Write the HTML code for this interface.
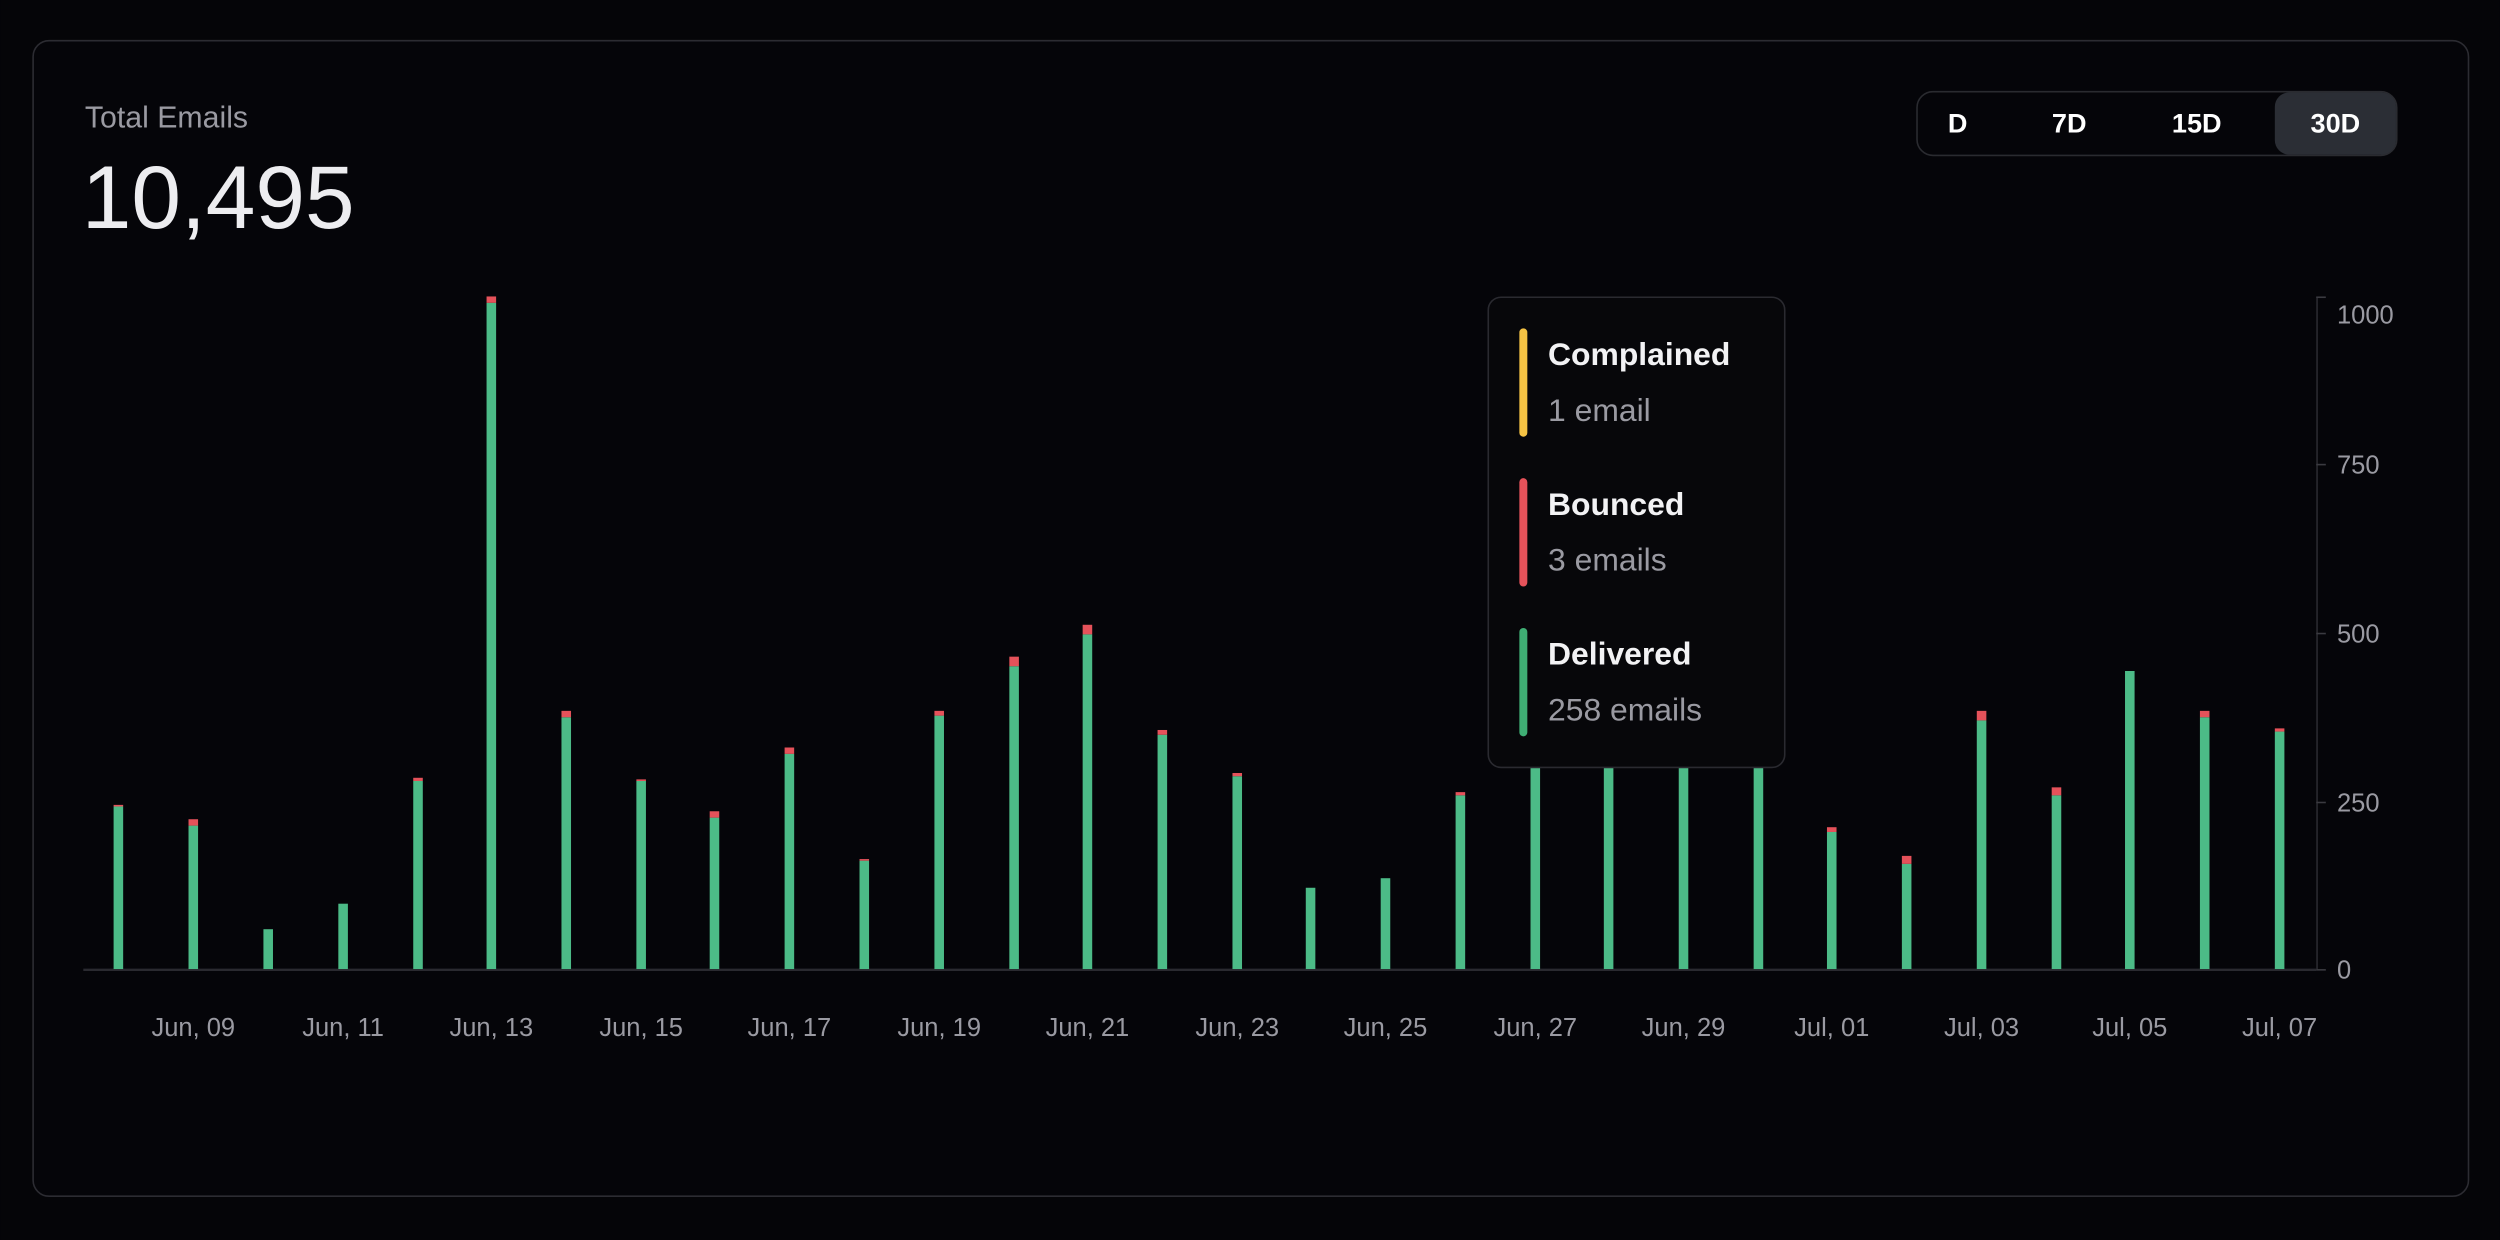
<!DOCTYPE html>
<html><head><meta charset="utf-8"><style>
html,body{margin:0;padding:0;background:#050508;}
svg{display:block;}
text{font-family:"Liberation Sans",sans-serif;}
</style></head><body>
<svg width="2500" height="1240" viewBox="0 0 1568 778" xmlns="http://www.w3.org/2000/svg">
<rect width="1568" height="778" fill="#050508"/>
<rect x="20.5" y="25.5" width="1528" height="725" rx="10" fill="#050509" stroke="#2c2c32" stroke-width="1"/>
<text x="53" y="80" font-size="19" fill="#9a9aa2">Total Emails</text>
<text x="51" y="143" font-size="56" fill="#ededf0" font-weight="300">10,495</text>
<rect x="1202.5" y="57.5" width="301" height="40" rx="10" fill="none" stroke="#2a2b30"/>
<rect x="1427" y="58" width="76" height="39" rx="9" fill="#2b2e35"/>
<g font-size="17" font-weight="bold" fill="#fff" text-anchor="middle">
<text x="1228" y="83">D</text><text x="1298" y="83">7D</text><text x="1378" y="83">15D</text><text x="1465" y="83">30D</text>
</g>
<line x1="52" y1="608.5" x2="1453" y2="608.5" stroke="#2a2a30" stroke-width="1.5"/>
<line x1="1453.5" y1="186" x2="1453.5" y2="608" stroke="#2a2a30"/>
<g stroke="#3a3a40"><line x1="1453" y1="186.5" x2="1459" y2="186.5"/><line x1="1453" y1="291.5" x2="1459" y2="291.5"/><line x1="1453" y1="397.5" x2="1459" y2="397.5"/><line x1="1453" y1="503.5" x2="1459" y2="503.5"/><line x1="1453" y1="608.5" x2="1459" y2="608.5"/></g>
<g font-size="16" fill="#9a9aa2">
<text x="1466" y="203">1000</text><text x="1466" y="297">750</text><text x="1466" y="403">500</text><text x="1466" y="509">250</text><text x="1466" y="614">0</text>
</g>
<g fill="#4cbb87">
<rect x="71" y="506" width="6" height="102"/>
<rect x="118" y="518" width="6" height="90"/>
<rect x="165" y="583" width="6" height="25"/>
<rect x="212" y="567" width="6" height="41"/>
<rect x="259" y="490" width="6" height="118"/>
<rect x="305" y="190" width="6" height="418"/>
<rect x="352" y="450" width="6" height="158"/>
<rect x="399" y="490" width="6" height="118"/>
<rect x="445" y="513" width="6" height="95"/>
<rect x="492" y="473" width="6" height="135"/>
<rect x="539" y="540" width="6" height="68"/>
<rect x="586" y="449" width="6" height="159"/>
<rect x="633" y="418" width="6" height="190"/>
<rect x="679" y="398" width="6" height="210"/>
<rect x="726" y="461" width="6" height="147"/>
<rect x="773" y="487" width="6" height="121"/>
<rect x="819" y="557" width="6" height="51"/>
<rect x="866" y="551" width="6" height="57"/>
<rect x="913" y="499" width="6" height="109"/>
<rect x="960" y="440" width="6" height="168"/>
<rect x="1006" y="430" width="6" height="178"/>
<rect x="1053" y="445" width="6" height="163"/>
<rect x="1100" y="420" width="6" height="188"/>
<rect x="1146" y="522" width="6" height="86"/>
<rect x="1193" y="542" width="6" height="66"/>
<rect x="1240" y="452" width="6" height="156"/>
<rect x="1287" y="499" width="6" height="109"/>
<rect x="1333" y="421" width="6" height="187"/>
<rect x="1380" y="450" width="6" height="158"/>
<rect x="1427" y="459" width="6" height="149"/>
</g>
<g fill="#e5525a">
<rect x="71" y="505" width="6" height="1"/>
<rect x="118" y="514" width="6" height="4"/>
<rect x="259" y="488" width="6" height="2"/>
<rect x="305" y="186" width="6" height="4"/>
<rect x="352" y="446" width="6" height="4"/>
<rect x="399" y="489" width="6" height="1"/>
<rect x="445" y="509" width="6" height="4"/>
<rect x="492" y="469" width="6" height="4"/>
<rect x="539" y="539" width="6" height="1"/>
<rect x="586" y="446" width="6" height="3"/>
<rect x="633" y="412" width="6" height="6"/>
<rect x="679" y="392" width="6" height="6"/>
<rect x="726" y="458" width="6" height="3"/>
<rect x="773" y="485" width="6" height="2"/>
<rect x="913" y="497" width="6" height="2"/>
<rect x="1146" y="519" width="6" height="3"/>
<rect x="1193" y="537" width="6" height="5"/>
<rect x="1240" y="446" width="6" height="6"/>
<rect x="1287" y="494" width="6" height="5"/>
<rect x="1380" y="446" width="6" height="4"/>
<rect x="1427" y="457" width="6" height="2"/>
</g>
<g font-size="16" fill="#9a9aa2" text-anchor="middle">
<text x="121" y="650">Jun, 09</text><text x="215" y="650">Jun, 11</text><text x="308" y="650">Jun, 13</text><text x="402" y="650">Jun, 15</text><text x="495" y="650">Jun, 17</text><text x="589" y="650">Jun, 19</text><text x="682" y="650">Jun, 21</text><text x="776" y="650">Jun, 23</text><text x="869" y="650">Jun, 25</text><text x="963" y="650">Jun, 27</text><text x="1056" y="650">Jun, 29</text><text x="1149" y="650">Jul, 01</text><text x="1243" y="650">Jul, 03</text><text x="1336" y="650">Jul, 05</text><text x="1430" y="650">Jul, 07</text>
</g>
<g>
<rect x="933.5" y="186.5" width="186" height="295" rx="8" fill="#07070a" stroke="#2a2a30"/>
<rect x="953" y="206" width="5" height="68" rx="2.5" fill="#f5c344"/>
<rect x="953" y="300" width="5" height="68" rx="2.5" fill="#e5525a"/>
<rect x="953" y="394" width="5" height="68" rx="2.5" fill="#3fae74"/>
<g font-size="20" font-weight="bold" fill="#f2f2f4"><text x="971" y="229">Complained</text><text x="971" y="323">Bounced</text><text x="971" y="417">Delivered</text></g>
<g font-size="20" fill="#9a9aa2"><text x="971" y="264">1 email</text><text x="971" y="358">3 emails</text><text x="971" y="452">258 emails</text></g>
</g>
</svg>
</body></html>
